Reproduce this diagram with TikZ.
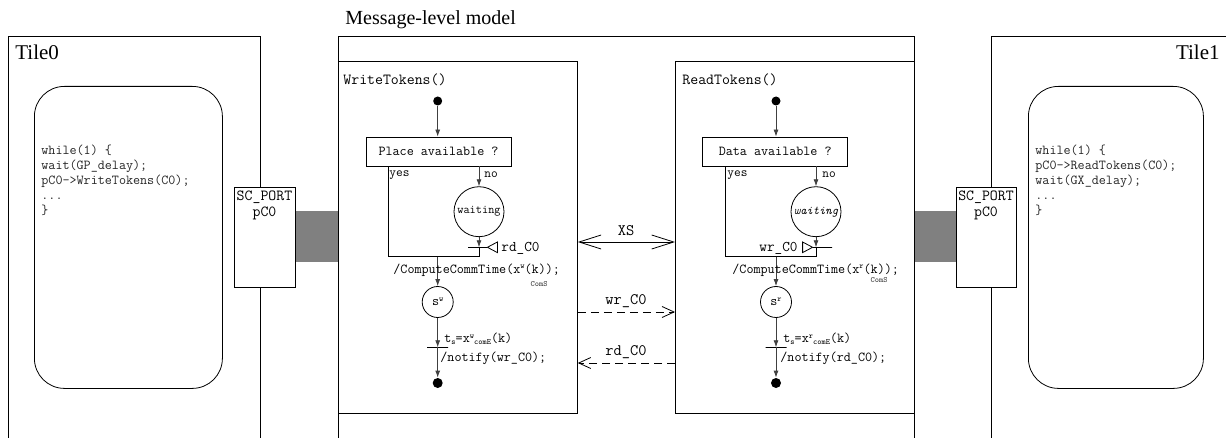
\documentclass[tikz,border=0pt]{standalone}
\usepackage{fontspec}
\setmainfont{Liberation Serif}
\usetikzlibrary{arrows.meta}
\newcommand{\mysup}[1]{\raisebox{4.5pt}{\fontsize{8}{8}\selectfont #1}}
\newcommand{\mysub}[1]{\raisebox{-2pt}{\fontsize{8}{8}\selectfont #1}}
\begin{document}
\begin{tikzpicture}[x=1pt,y=-1pt,
  line width=0.8pt,
  frame/.style={draw, line width=0.8pt},
  box/.style={draw, line width=0.8pt, inner sep=0pt, fill=white},
  prog/.style={box, rounded corners=30pt, minimum width=#1, minimum height=302pt, anchor=north west},
  port/.style={box, minimum width=61pt, minimum height=100pt, anchor=north west},
  portbar/.style={fill=black!50, draw=none, inner sep=0pt, minimum width=#1, minimum height=51pt, anchor=north west},
  tilelab/.style={font=\fontsize{21}{21}\selectfont, inner sep=0pt},
  code/.style={font=\ttfamily\fontsize{13.7}{15}\selectfont, inner sep=0pt, align=left, anchor=north west, text=black!85},
  porttxt/.style={font=\ttfamily\fontsize{15.4}{16}\selectfont, inner sep=0pt, align=center, anchor=north},
  mtitle/.style={font=\ttfamily\fontsize{15.4}{16}\selectfont, inner sep=0pt, anchor=west},
  mono/.style={font=\ttfamily\fontsize{13.7}{15}\selectfont, inner sep=0pt},
  small/.style={font=\ttfamily\fontsize{13}{14}\selectfont, inner sep=0pt, anchor=west},
  midlab/.style={font=\ttfamily\fontsize{16}{17}\selectfont, inner sep=0pt},
  dot/.style={circle, fill=black, inner sep=0pt, minimum size=#1},
  cond/.style={box, minimum width=145pt, minimum height=29pt, font=\ttfamily\fontsize{13.7}{15}\selectfont},
  state/.style={circle, draw, line width=0.8pt, inner sep=0pt, minimum size=#1},
  hbar/.style={draw, line width=0.8pt, inner sep=0pt, minimum height=0pt, minimum width=#1},
  flow/.style={draw=black!75, line width=0.8pt, -{Latex[length=7pt,width=5pt]}},
  plain/.style={draw=black, line width=0.8pt},
  bigbarb/.style={{Straight Barb[length=22pt,width=14pt]}-{Straight Barb[length=22pt,width=14pt]}},
  dsh/.style={dash pattern=on 8pt off 5pt},
  smbarb/.style={-{Straight Barb[length=12pt,width=11pt]}}
]
\useasboundingbox (0,0) rectangle (1226,438);

% ---------- Tile0 ----------
\draw[frame] (8,438) -- (8,36) -- (260,36) -- (260,438);
\node[tilelab, anchor=base west] (t0lab) at (15,60) {Tile0};
\node[prog=188pt] (p0) at (34,86) {};
\node[code] (code0) at (41,144.5) {while(1) \{\\wait(GP\_delay);\\pC0->WriteTokens(C0);\\...\\\}};
\node[portbar=43pt] (bar0) at (295,211) {};
\node[port] (port0) at (234,187) {};
\node[porttxt] (port0t) at (264.5,191) {SC\_PORT\\pC0};

% ---------- Tile1 ----------
\draw[frame] (1226,36) -- (991,36) -- (991,438);
\node[tilelab, anchor=base east] (t1lab) at (1220,60) {Tile1};
\node[prog=175pt] (p1) at (1028,86) {};
\node[code] (code1) at (1035,144.5) {while(1) \{\\pC0->ReadTokens(C0);\\wait(GX\_delay);\\...\\\}};
\node[portbar=42pt] (bar1) at (914,211) {};
\node[port, minimum width=60pt] (port1) at (956,187) {};
\node[porttxt] (port1t) at (986,191) {SC\_PORT\\pC0};

% ---------- Message-level model ----------
\draw[frame] (338,438) -- (338,36) -- (914,36) -- (914,438);
\node[font=\fontsize{20}{20}\selectfont, inner sep=0pt, anchor=base west] (mlab) at (345,25) {Message-level model};
\node[box, minimum width=239pt, minimum height=352pt, anchor=north west] (wt) at (338,61) {};
\node[box, minimum width=239pt, minimum height=352pt, anchor=north west] (rt) at (675,61) {};

% ---------- WriteTokens ----------
\node[mtitle] (wtl) at (343,80) {WriteTokens()};
\node[dot=9pt] (w0) at (437.7,101) {};
\node[cond] (wq) at (438.5,151.5) {Place available ?};
\draw[flow] (w0) -- (w0 |- wq.north);
\node[small] (wyes) at (389,175) {yes};
\node[small] (wno) at (484,175) {no};
\node[state=50pt, font=\ttfamily\fontsize{12}{13}\selectfont] (ww) at (479,211.7) {waiting};
\coordinate (wy) at (388,256.7);
\coordinate (wj) at (479,256.7);
\node[hbar=19pt] (wb1) at (477.5,247.3) {};
\draw[flow] (wq.south -| ww) -- (ww.north);
\draw[flow] (ww.south) -- (ww |- wb1);
\draw[plain] (ww |- wb1) -- (wj) -- (wy) -- (wq.south -| wy);
\draw[plain] (wb1.east) -- ++(10,-5.3) -- ++(0,10.6) -- cycle;
\node[font=\ttfamily\fontsize{14.8}{15}\selectfont, inner sep=0pt, anchor=west] (wrd) at (501,248) {rd\_C0};
\node[state=31pt, font=\ttfamily\fontsize{13.7}{15}\selectfont] (sw) at (437.7,302) {s\mysup{w}};
\draw[flow] (sw |- wj) -- (sw.north);
\node[mono, anchor=west] (wcc) at (393,270) {/ComputeCommTime(x\mysup{w}(k));};
\node[font=\ttfamily\fontsize{8}{8}\selectfont, inner sep=0pt, text=black!80] (wcs) at (539,284) {ComS};
\node[hbar=21pt] (wb2) at (437.7,347.3) {};
\draw[flow] (sw.south) -- (wb2.center);
\node[dot=10pt] (wend) at (437.7,383) {};
\draw[flow] (wb2.center) -- (wend.north);
\node[mono, anchor=west] (wts) at (444,339) {t\mysub{s}=x\mysup{w}\mysub{comE}(k)};
\node[mono, anchor=west] (wnt) at (440,358) {/notify(wr\_C0);};

% ---------- ReadTokens ----------
\node[mtitle] (rtl) at (682,80) {ReadTokens()};
\node[dot=9pt] (r0) at (776,101) {};
\node[cond] (rq) at (775.2,151.5) {Data available ?};
\draw[flow] (r0) -- (r0 |- rq.north);
\node[small] (ryes) at (727,175) {yes};
\node[small] (rno) at (822,175) {no};
\node[state=50pt, font=\ttfamily\itshape\fontsize{12}{13}\selectfont] (rw) at (816,211.7) {waiting};
\coordinate (ry) at (725.7,256.7);
\coordinate (rj) at (816,256.7);
\node[hbar=19pt] (rb1) at (822.5,247.3) {};
\draw[flow] (rq.south -| rw) -- (rw.north);
\draw[flow] (rw.south) -- (rw |- rb1);
\draw[plain] (rw |- rb1) -- (rj) -- (ry) -- (rq.south -| ry);
\draw[plain] (rb1.west) -- ++(-10,-5.3) -- ++(0,10.6) -- cycle;
\node[font=\ttfamily\fontsize{14.8}{15}\selectfont, inner sep=0pt, anchor=east] (rwr) at (798,248) {wr\_C0};
\node[state=31pt, font=\ttfamily\fontsize{13.7}{15}\selectfont] (sr) at (776,302) {s\mysup{r}};
\draw[flow] (sr |- rj) -- (sr.north);
\node[mono, anchor=west] (rcc) at (732,270) {/ComputeCommTime(x\mysup{r}(k));};
\node[font=\ttfamily\fontsize{8}{8}\selectfont, inner sep=0pt, text=black!80] (rcs) at (879,280) {ComS};
\node[hbar=21pt] (rb2) at (776,347.3) {};
\draw[flow] (sr.south) -- (rb2.center);
\node[dot=10pt] (rend) at (776,383) {};
\draw[flow] (rb2.center) -- (rend.north);
\node[mono, anchor=west] (rts) at (783,339) {t\mysub{s}=x\mysup{r}\mysub{comE}(k)};
\node[mono, anchor=west] (rnt) at (780,358) {/notify(rd\_C0);};

% ---------- middle signals ----------
\coordinate (xsy) at (626,242);
\coordinate (wry) at (626,312);
\coordinate (rdy) at (626,363);
\draw[plain, bigbarb] (wt.east |- xsy) -- (rt.west |- xsy);
\draw[plain, dsh, smbarb] (wt.east |- wry) -- (rt.west |- wry);
\draw[plain, dsh, smbarb] (rt.west |- rdy) -- (wt.east |- rdy);
\node[midlab] (xslab) at (626,231) {XS};
\node[midlab] (wrlab) at (626,301) {wr\_C0};
\node[midlab] (rdlab) at (626,352) {rd\_C0};
\end{tikzpicture}
\end{document}
